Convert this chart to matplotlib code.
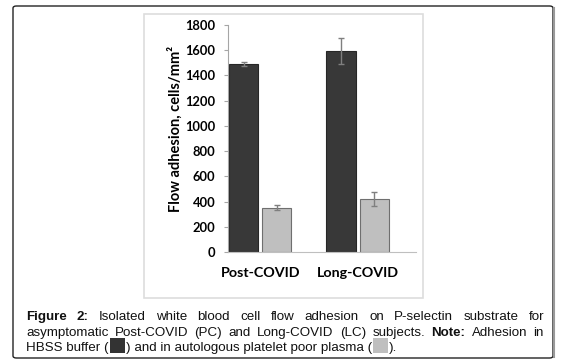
import numpy as np
import matplotlib.pyplot as plt
from matplotlib.patches import FancyBboxPatch, Rectangle

W, H = 568, 363

groups = ["Post-COVID", "Long-COVID"]
hbss = [1490, 1592]
hbss_err = [18, 105]
plasma = [352, 420]
plasma_err = [18, 55]
yticks = [0, 200, 400, 600, 800, 1000, 1200, 1400, 1600, 1800]

caption = [
    [("Figure", True), ("2:", True), ("Isolated", False), ("white", False), ("blood", False),
     ("cell", False), ("flow", False), ("adhesion", False), ("on", False), ("P-selectin", False),
     ("substrate", False), ("for", False)],
    [("asymptomatic", False), ("Post-COVID", False), ("(PC)", False), ("and", False),
     ("Long-COVID", False), ("(LC)", False), ("subjects.", False), ("Note:", True),
     ("Adhesion", False), ("in", False)],
]
last_line = ["HBSS buffer (", "#333333", ") and in autologous platelet poor plasma (", "#bfbfbf", ")."]


def fx(x):
    return x / W


def fy(y):
    return 1 - y / H


fig = plt.figure(figsize=(W / 100, H / 100), dpi=100)

# outer box of the figure block
box = FancyBboxPatch((fx(13), fy(358)), fx(553) - fx(13), fy(6) - fy(358),
                     boxstyle="round,pad=0,rounding_size=0.006", transform=fig.transFigure,
                     facecolor="white", edgecolor="#222222", linewidth=1.0, zorder=-3)
fig.patches.append(box)
shadow_r = plt.Line2D([fx(554), fx(554)], [fy(8), fy(357)], transform=fig.transFigure,
                      color="#999999", linewidth=1.5, zorder=-2)
fig.lines.append(shadow_r)

# inner image frame
frame = Rectangle((fx(144), fy(298)), fx(423) - fx(144), fy(14) - fy(298),
                  transform=fig.transFigure, facecolor="none", edgecolor="#dddddd",
                  linewidth=1.2, zorder=-1)
fig.patches.append(frame)

ax = fig.add_axes([fx(228), fy(252), fx(416) - fx(228), fy(25) - fy(252)])
ax.set_zorder(3)
ax.patch.set_alpha(0)
x = np.arange(len(groups))
bw = 0.30
gap = 0.04
ax.bar(x - bw / 2 - gap / 2, hbss, bw, yerr=hbss_err, color="#383838", edgecolor="#262626",
       linewidth=0.8, error_kw=dict(ecolor="#7f7f7f", elinewidth=1, capsize=2.5, capthick=1))
ax.bar(x + bw / 2 + gap / 2, plasma, bw, yerr=plasma_err, color="#bfbfbf", edgecolor="#6f6f6f",
       linewidth=0.8, error_kw=dict(ecolor="#7f7f7f", elinewidth=1, capsize=2.5, capthick=1))

ax.set_xlim(-0.33, 1.6)
ax.set_ylim(0, 1800)
ax.set_yticks(yticks)
ax.set_yticklabels([str(v) for v in yticks], fontsize=9.3, fontweight="bold", family="Lato")
ax.set_xticks(x)
ax.set_xticklabels(groups, fontsize=10.3, fontweight="bold", family="Lato")
ax.tick_params(axis="x", length=0, pad=11)
ax.tick_params(axis="y", length=3, color="#a6a6a6", pad=6)
for s in ["top", "right"]:
    ax.spines[s].set_visible(False)
ax.spines["left"].set_color("#a6a6a6")
ax.spines["bottom"].set_color("#bfbfbf")
ax.set_ylabel("Flow adhesion, cells/mm²", fontsize=10.5, fontweight="bold", family="Lato")
ax.yaxis.set_label_coords(-0.24, 0.54)

# caption, justified like the page
fig.canvas.draw()
rend = fig.canvas.get_renderer()
left, right = 26, 544
base = [320, 336, 351]
cfont = dict(family="Liberation Sans", fontsize=9.6, color="#111111", va="baseline")
for li, words in enumerate(caption):
    objs = [fig.text(0, fy(base[li]), w, fontweight="bold" if b else "normal", **cfont)
            for w, b in words]
    widths = [o.get_window_extent(rend).width for o in objs]
    space = (right - left - sum(widths)) / (len(objs) - 1)
    pos = left
    for o, wd in zip(objs, widths):
        o.set_x(fx(pos))
        pos += wd + space

pos = left
for item in last_line:
    if item.startswith("#"):
        fig.patches.append(Rectangle((fx(pos + 1), fy(353)), 15 / W, 15 / H,
                                     transform=fig.transFigure, facecolor=item, edgecolor="none"))
        pos += 17
    else:
        t = fig.text(fx(pos), fy(base[2]), item, **cfont)
        pos += t.get_window_extent(rend).width

fig.savefig("out.png", dpi=100)
